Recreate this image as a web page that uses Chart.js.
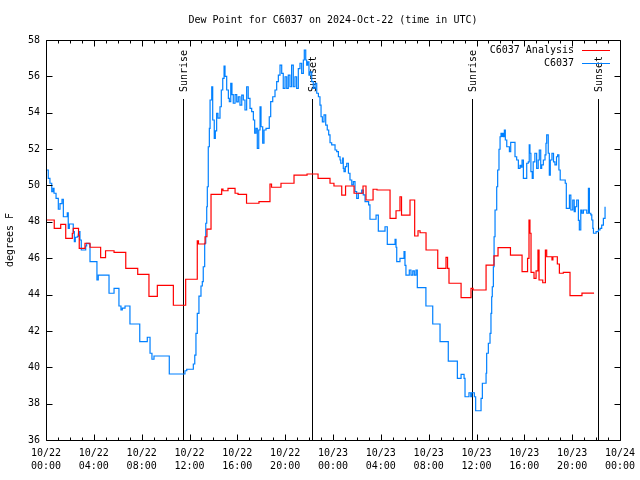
<!DOCTYPE html>
<html>
<head>
<meta charset="utf-8">
<script src="https://cdn.jsdelivr.net/npm/chart.js@4.4.0/dist/chart.umd.min.js"></script>
<style>
  body { margin: 0; background: #fff; }
</style>
</head>
<body>
<canvas id="chart" width="640" height="480"></canvas>
<script>
const FONT = "'DejaVu Sans Mono', 'Liberation Mono', monospace";

// x values are hours after 2024-10-22 00:00 UTC
const tickLabels = ["10/22 00:00", "10/22 04:00", "10/22 08:00", "10/22 12:00", "10/22 16:00",
  "10/22 20:00", "10/23 00:00", "10/23 04:00", "10/23 08:00", "10/23 12:00", "10/23 16:00",
  "10/23 20:00", "10/24 00:00"];

const sunLabels = ["Sunrise", "Sunset", "Sunrise", "Sunset"];
const sunHours = [11.48, 22.22, 35.6, 46.19];

// C6037 Analysis (hour, degrees F)
const analysis = [
  [0.06, 48.1], [0.69, 47.64], [1.23, 47.86], [1.65, 47.09], [2.2, 47.37], [2.28, 47.64],
  [2.72, 47.27], [2.78, 46.54], [3.26, 46.82], [3.68, 46.6], [4.57, 46.03], [4.98, 46.41],
  [5.69, 46.32], [6.67, 45.44], [7.67, 45.11], [8.61, 43.9], [9.31, 44.5], [10.65, 43.41],
  [11.68, 44.84], [12.65, 46.96], [12.75, 46.78], [13.3, 47.18], [13.46, 47.6], [13.8, 49.51],
  [14.69, 49.8], [14.8, 49.71], [15.22, 49.84], [15.81, 49.57], [16.06, 49.51], [16.77, 49.02],
  [17.81, 49.11], [18.73, 50.08], [18.86, 49.9], [19.65, 50.12], [20.74, 50.57], [21.83, 50.63],
  [22.75, 50.39], [23.75, 50.12], [24.08, 49.97], [24.73, 49.47], [25.05, 49.97], [25.76, 49.57],
  [26.51, 49.97], [26.76, 49.2], [27.35, 49.79], [27.68, 49.75], [28.77, 48.19], [29.27, 48.61],
  [29.6, 49.38], [29.73, 48.37], [30.44, 49.2], [30.83, 47.22], [31.11, 47.51], [31.28, 47.4],
  [31.78, 46.45], [32.76, 45.44], [33.45, 46.04], [33.58, 45.44], [33.7, 44.62], [34.71, 43.83],
  [35.54, 44.34], [35.71, 44.25], [36.8, 45.62], [37.46, 46.13], [37.8, 46.58], [38.84, 46.17],
  [39.81, 45.26], [40.27, 45.99], [40.39, 48.1], [40.47, 47.37], [40.56, 45.22], [40.81, 44.89],
  [40.98, 45.3], [41.14, 46.45], [41.23, 44.8], [41.54, 44.65], [41.76, 46.45], [41.87, 46.08],
  [42.31, 45.9], [42.39, 46.08], [42.76, 45.68], [42.93, 45.17], [43.26, 45.22], [43.82, 43.94],
  [44.82, 44.08], [45.83, 44.08]
];

// C6037 observations (hour, degrees F)
const observed = [
  [0.06, 50.85], [0.19, 50.39], [0.33, 50.12], [0.48, 49.66], [0.59, 49.84], [0.67, 49.57],
  [0.84, 49.29], [1.03, 48.69], [1.17, 49.0], [1.34, 49.24], [1.45, 48.28], [1.67, 48.28],
  [1.78, 48.5], [1.86, 47.64], [1.95, 47.88], [2.23, 47.88], [2.28, 47.46], [2.37, 46.91],
  [2.45, 47.15], [2.62, 47.2], [2.7, 47.33], [2.78, 47.46], [2.84, 47.0], [2.95, 46.45],
  [3.2, 46.45], [3.32, 46.67], [3.4, 46.82], [3.6, 46.78], [3.68, 45.81], [4.18, 45.81],
  [4.26, 44.8], [4.37, 45.07], [5.16, 45.07], [5.27, 44.07], [5.63, 44.07], [5.69, 44.34],
  [6.02, 44.34], [6.1, 43.37], [6.27, 43.15], [6.38, 43.25], [6.61, 43.37], [6.97, 43.37],
  [7.02, 42.38], [7.75, 42.38], [7.84, 41.41], [8.36, 41.41], [8.47, 41.65], [8.59, 41.65],
  [8.7, 40.77], [8.86, 40.44], [9.03, 40.62], [9.81, 40.62], [10.26, 40.62], [10.31, 39.63],
  [11.48, 39.63], [11.62, 39.81], [11.77, 39.89], [12.18, 39.89], [12.32, 40.18], [12.44, 40.67],
  [12.54, 41.86], [12.65, 42.96], [12.79, 43.91], [12.96, 44.47], [13.07, 44.71], [13.15, 45.53],
  [13.27, 46.82], [13.36, 47.92], [13.44, 48.83], [13.49, 49.93], [13.57, 52.13], [13.66, 53.14],
  [13.72, 54.7], [13.86, 55.43], [13.94, 53.6], [14.07, 52.59], [14.16, 53.0], [14.27, 53.97],
  [14.38, 53.7], [14.55, 54.33], [14.66, 55.25], [14.78, 55.89], [14.89, 56.57], [14.97, 56.0],
  [15.11, 55.25], [15.25, 54.79], [15.33, 54.61], [15.45, 55.62], [15.55, 55.0], [15.66, 54.52],
  [15.81, 55.0], [15.95, 54.6], [16.08, 54.88], [16.22, 54.42], [16.37, 54.97], [16.5, 54.7],
  [16.64, 54.15], [16.78, 55.43], [16.91, 54.79], [17.06, 54.24], [17.2, 54.06], [17.34, 53.6],
  [17.45, 52.87], [17.56, 53.14], [17.67, 52.04], [17.79, 53.05], [17.9, 54.33], [17.98, 53.23],
  [18.12, 52.32], [18.23, 53.05], [18.4, 53.14], [18.59, 53.14], [18.67, 53.78], [18.79, 54.61],
  [18.96, 54.88], [19.15, 55.25], [19.29, 55.71], [19.43, 56.07], [19.57, 56.62], [19.71, 56.16],
  [19.84, 55.34], [19.99, 55.98], [20.13, 55.34], [20.26, 56.07], [20.4, 55.43], [20.54, 56.62],
  [20.68, 55.43], [20.82, 55.98], [20.96, 55.34], [21.1, 56.43], [21.24, 56.72], [21.38, 56.16],
  [21.52, 56.9], [21.6, 57.45], [21.72, 56.9], [21.8, 56.62], [21.88, 56.8], [21.99, 56.07],
  [22.08, 56.25], [22.22, 55.71], [22.35, 55.34], [22.5, 55.62], [22.64, 55.07], [22.78, 54.88],
  [22.91, 54.42], [23.0, 53.78], [23.11, 53.5], [23.25, 53.88], [23.39, 53.32], [23.52, 53.05],
  [23.64, 52.78], [23.75, 52.35], [23.89, 52.23], [24.03, 52.23], [24.17, 51.95], [24.31, 51.86],
  [24.45, 51.58], [24.59, 51.4], [24.65, 51.22], [24.81, 51.5], [24.86, 50.94], [24.92, 50.76],
  [25.03, 51.04], [25.15, 51.22], [25.29, 50.67], [25.42, 50.3], [25.57, 50.03], [25.7, 50.21],
  [25.84, 49.66], [25.98, 49.29], [26.12, 49.57], [26.26, 49.57], [26.4, 49.75], [26.53, 49.48],
  [26.68, 49.11], [26.87, 49.11], [26.98, 48.93], [27.09, 48.14], [27.51, 48.14], [27.6, 48.37],
  [27.71, 48.37], [27.79, 47.49], [28.21, 47.49], [28.35, 47.73], [28.46, 47.73], [28.54, 46.76],
  [29.1, 46.76], [29.19, 47.04], [29.27, 46.6], [29.33, 45.81], [29.6, 45.99], [29.88, 45.99],
  [29.94, 46.36], [30.02, 45.6], [30.1, 45.07], [30.3, 45.07], [30.38, 45.35], [30.52, 45.07],
  [30.67, 45.3], [30.8, 45.07], [30.94, 45.35], [31.05, 44.38], [31.69, 44.38], [31.77, 43.37],
  [32.25, 43.37], [32.34, 42.38], [32.89, 42.38], [32.95, 41.41], [33.56, 41.41], [33.64, 40.34],
  [34.35, 40.34], [34.4, 39.39], [34.68, 39.39], [34.71, 39.61], [34.9, 39.61], [34.96, 39.39],
  [35.04, 38.38], [35.32, 38.38], [35.37, 38.6], [35.46, 38.6], [35.52, 38.38], [35.6, 38.6],
  [35.73, 38.6], [35.82, 38.38], [35.93, 37.61], [36.35, 37.61], [36.38, 38.29], [36.49, 39.12],
  [36.71, 39.12], [36.8, 39.67], [36.85, 40.77], [36.99, 41.32], [37.07, 41.32], [37.13, 41.86],
  [37.21, 42.96], [37.27, 43.88], [37.32, 44.43], [37.41, 45.53], [37.47, 47.18], [37.55, 48.65],
  [37.69, 49.93], [37.77, 50.85], [37.88, 51.99], [37.97, 52.68], [38.05, 52.87], [38.13, 52.7],
  [38.19, 52.87], [38.24, 52.68], [38.33, 53.05], [38.41, 52.5], [38.53, 52.13], [38.67, 52.13],
  [38.75, 51.86], [38.86, 52.37], [39.08, 52.37], [39.22, 51.58], [39.36, 51.4], [39.5, 50.94],
  [39.64, 51.1], [39.72, 51.0], [39.81, 51.4], [39.92, 50.39], [40.06, 50.39], [40.2, 51.22],
  [40.33, 51.3], [40.41, 52.23], [40.47, 51.77], [40.55, 50.76], [40.66, 50.39], [40.74, 51.3],
  [40.88, 51.77], [41.03, 50.94], [41.16, 51.4], [41.25, 51.95], [41.37, 50.94], [41.45, 51.13],
  [41.59, 51.4], [41.73, 51.68], [41.81, 52.32], [41.87, 52.78], [42.0, 51.77], [42.09, 50.57],
  [42.17, 51.4], [42.31, 51.77], [42.44, 51.3], [42.56, 51.13], [42.69, 51.58], [42.78, 51.68],
  [42.89, 50.85], [43.0, 50.3], [43.28, 50.3], [43.42, 50.12], [43.51, 48.74], [43.68, 48.74],
  [43.77, 49.47], [43.89, 48.65], [44.05, 49.2], [44.17, 48.56], [44.26, 48.83], [44.38, 49.2],
  [44.52, 48.08], [44.6, 47.55], [44.72, 48.65], [44.82, 48.47], [44.94, 48.65], [45.08, 48.65],
  [45.22, 48.47], [45.36, 49.84], [45.44, 48.47], [45.56, 48.38], [45.64, 48.1], [45.73, 47.64],
  [45.78, 47.37], [46.0, 47.46], [46.19, 47.55], [46.33, 47.64], [46.47, 47.82], [46.61, 48.19],
  [46.75, 48.83]
];

// gnuplot style frame: box, inward ticks, sun lines, legend
const gnuFrame = {
  id: 'gnuFrame',
  beforeDatasetsDraw(chart) {
    const {ctx, chartArea: a, scales: {x}} = chart;
    ctx.save();
    ctx.strokeStyle = '#000';
    ctx.fillStyle = '#000';
    ctx.lineWidth = 1;
    ctx.font = '10px ' + FONT;
    sunHours.forEach((h, i) => {
      const px = Math.round(x.getPixelForValue(h)) + 0.5;
      ctx.beginPath();
      ctx.moveTo(px, a.top + 59);
      ctx.lineTo(px, a.bottom);
      ctx.stroke();
      ctx.save();
      ctx.translate(px + 1, a.top + 52);
      ctx.rotate(-Math.PI / 2);
      ctx.textAlign = 'left';
      ctx.textBaseline = 'middle';
      ctx.fillText(sunLabels[i], 0, 0);
      ctx.restore();
    });
    ctx.restore();
  },
  afterDatasetsDraw(chart) {
    const {ctx, chartArea: a, scales: {x, y}} = chart;
    ctx.save();
    ctx.strokeStyle = '#000';
    ctx.lineWidth = 1;
    const L = Math.round(a.left) + 0.5, R = Math.round(a.right) + 0.5;
    const T = Math.round(a.top) + 0.5, B = Math.round(a.bottom) + 0.5;
    ctx.beginPath();
    ctx.rect(L, T, R - L, B - T);
    for (let h = 0; h <= 48; h++) {
      const px = Math.round(x.getPixelForValue(h)) + 0.5;
      const len = h % 4 === 0 ? 6 : 3;
      ctx.moveTo(px, B); ctx.lineTo(px, B - len);
      ctx.moveTo(px, T); ctx.lineTo(px, T + len);
    }
    for (let v = 36; v <= 58; v += 2) {
      const py = Math.round(y.getPixelForValue(v)) + 0.5;
      ctx.moveTo(L, py); ctx.lineTo(L + 6, py);
      ctx.moveTo(R, py); ctx.lineTo(R - 6, py);
    }
    ctx.stroke();

    // legend
    ctx.font = '10px ' + FONT;
    ctx.textAlign = 'right';
    ctx.textBaseline = 'middle';
    chart.data.datasets.forEach((ds, i) => {
      const ly = Math.round(a.top + 10 + i * 13) + 0.5;
      ctx.fillStyle = '#000';
      ctx.fillText(ds.label, a.right - 46, ly);
      ctx.strokeStyle = ds.borderColor;
      ctx.beginPath();
      ctx.moveTo(a.right - 38, ly);
      ctx.lineTo(a.right - 10, ly);
      ctx.stroke();
    });
    ctx.restore();
  }
};

const chart = new Chart(document.getElementById('chart'), {
  type: 'line',
  data: {
    datasets: [{
      label: 'C6037 Analysis',
      data: analysis.map(p => ({x: p[0], y: p[1]})),
      borderColor: '#ff0000',
      borderWidth: 1.2,
      stepped: true,
      pointRadius: 0,
    }, {
      label: 'C6037',
      data: observed.map(p => ({x: p[0], y: p[1]})),
      borderColor: '#0080ff',
      borderWidth: 1.2,
      stepped: true,
      pointRadius: 0,
    }]
  },
  options: {
    responsive: false,
    animation: false,
    layout: { padding: { right: 20 } },
    plugins: {
      legend: { display: false },
      tooltip: { enabled: false },
      title: {
        display: true,
        fullSize: false,
        text: 'Dew Point for C6037 on 2024-Oct-22 (time in UTC)',
        color: '#000',
        font: { family: FONT, size: 10, weight: 'normal' },
        padding: { top: 14, bottom: 14 },
      },
    },
    scales: {
      x: {
        type: 'linear',
        min: 0,
        max: 48,
        grid: { display: false, drawTicks: false },
        border: { display: false },
        afterFit: (scale) => {
          scale.height = 40;
          scale.paddingLeft = 0;
          scale.paddingRight = 0;
        },
        ticks: {
          stepSize: 4,
          autoSkip: false,
          maxRotation: 0,
          padding: 7,
          color: '#000',
          font: { family: FONT, size: 10, lineHeight: 1.3 },
          callback: (v, i) => tickLabels[i].split(' '),
        },
      },
      y: {
        min: 36,
        max: 58,
        grid: { display: false, drawTicks: false },
        border: { display: false },
        afterFit: (scale) => { scale.width = 46; },
        title: {
          display: true,
          text: 'degrees F',
          color: '#000',
          font: { family: FONT, size: 10 },
          padding: { top: 4, bottom: 0 },
        },
        ticks: {
          stepSize: 2,
          padding: 6,
          color: '#000',
          font: { family: FONT, size: 10 },
        },
      },
    },
  },
  plugins: [gnuFrame],
});
</script>
</body>
</html>
